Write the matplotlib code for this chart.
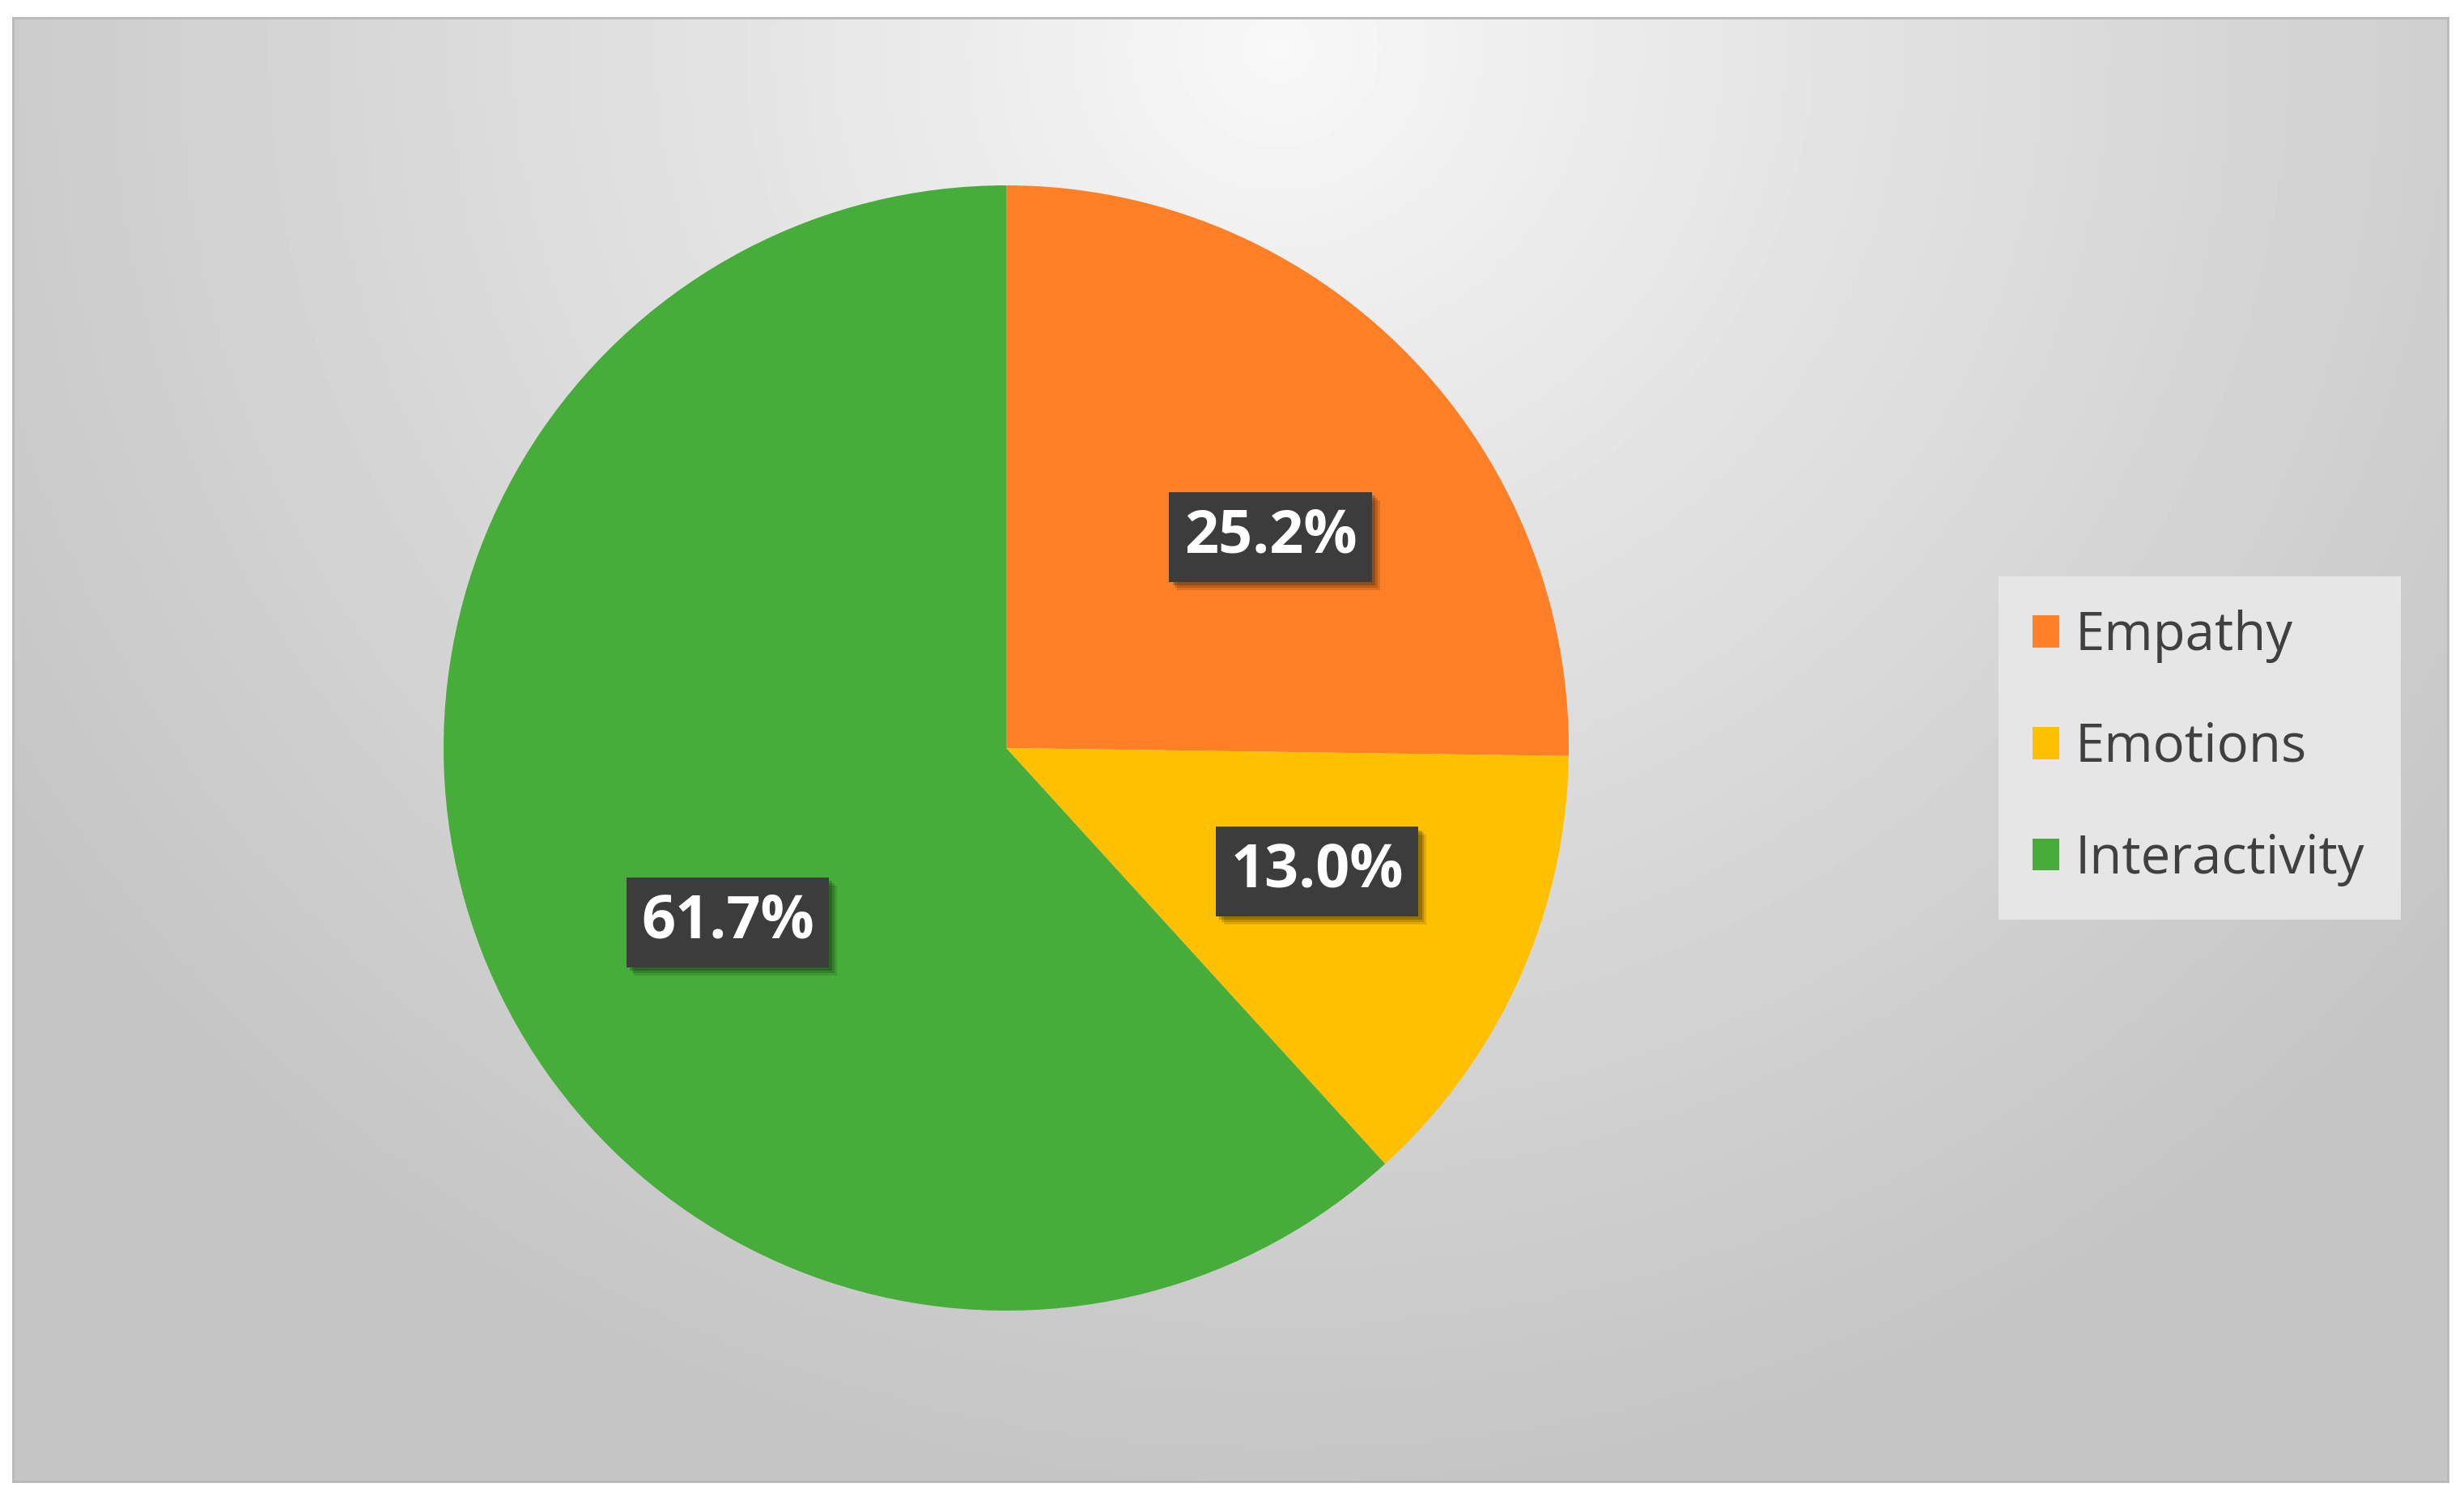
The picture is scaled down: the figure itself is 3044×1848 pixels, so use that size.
import numpy as np
import matplotlib.pyplot as plt
import matplotlib.patheffects as pe
from matplotlib.patches import Rectangle

# данные
labels = ['Empathy', 'Emotions', 'Interactivity']
values = [25.2, 13.0, 61.7]
colors = ['#fe7f25', '#ffc000', '#46ad3a']

W, H = 3044, 1848
fig = plt.figure(figsize=(W / 100, H / 100), dpi=100)
fig.patch.set_facecolor('white')

# фон рамки с радиальным градиентом
fx0, fy0, fx1, fy1 = 16 / W, 1 - 1830 / H, 3024 / W, 1 - 22 / H
bg = fig.add_axes([fx0, fy0, fx1 - fx0, fy1 - fy0])
yy, xx = np.mgrid[0:1:400j, 0:1:660j]
d = np.sqrt(((xx - 0.52) / 0.62) ** 2 + ((yy - 0.02) / 1.0) ** 2)
d = np.clip(d, 0, 1)
light, dark = 0.975, 0.77
img = light - (light - dark) * d ** 0.9
bg.imshow(img, cmap='gray', vmin=0, vmax=1, aspect='auto', extent=[0, 1, 1, 0])
bg.set_xticks([])
bg.set_yticks([])
for s in bg.spines.values():
    s.set_color('#b8b8b8')
    s.set_linewidth(2)

# пирог
R = 695
cx, cy = 1243, 924
ax = fig.add_axes([(cx - R) / W, 1 - (cy + R) / H, 2 * R / W, 2 * R / H])
wedges, _ = ax.pie(values, colors=colors, startangle=90, counterclock=False,
                   radius=1.0, wedgeprops=dict(linewidth=0))
ax.set_xlim(-1, 1)
ax.set_ylim(-1, 1)
ax.set_aspect('auto')
ax.axis('off')

# подписи в тёмных рамках
label_pos = [(0.47, 0.375), (0.553, -0.22), (-0.495, -0.31)]
for v, (lx, ly) in zip(values, label_pos):
    t = ax.text(lx, ly, f'{v:.1f}%', ha='center', va='center', color='white',
                fontsize=53, fontweight='bold', family='Open Sans',
                bbox=dict(boxstyle='square,pad=0.25', facecolor='#3c3c3c',
                          edgecolor='none'))
    t.get_bbox_patch().set_path_effects([
        pe.SimplePatchShadow(offset=(7, -7), shadow_rgbFace='black', alpha=0.12),
        pe.SimplePatchShadow(offset=(5, -5), shadow_rgbFace='black', alpha=0.15),
        pe.SimplePatchShadow(offset=(3, -3), shadow_rgbFace='black', alpha=0.2),
        pe.Normal()])

# легенда
leg_ax = fig.add_axes([2469 / W, 1 - 1136 / H, (2966 - 2469) / W, (1136 - 712) / H])
leg_ax.add_patch(Rectangle((0, 0), 1, 1, facecolor='#e6e6e6', edgecolor='none',
                           transform=leg_ax.transAxes))
leg_ax.axis('off')
leg = leg_ax.legend(wedges, labels, loc='center left', bbox_to_anchor=(0.0, 0.5),
                    frameon=False, prop=dict(family='Open Sans', size=47),
                    labelcolor='#404040', handlelength=0.5, handleheight=0.55,
                    handletextpad=0.3, labelspacing=1.1, borderaxespad=0.25)

fig.savefig('out.png', dpi=100, facecolor='white')
